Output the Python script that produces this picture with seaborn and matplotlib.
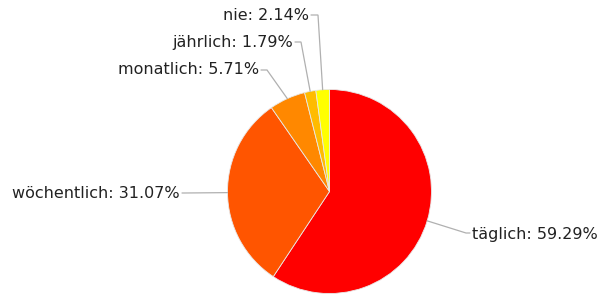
import numpy as np
import matplotlib.pyplot as plt
import seaborn as sns

# data
labels = ['täglich', 'wöchentlich', 'monatlich', 'jährlich', 'nie']
values = [59.29, 31.07, 5.71, 1.79, 2.14]
colors = ['#ff0000', '#ff5500', '#ff8800', '#ffbb00', '#ffff00']

sns.set_theme(style='white')
plt.rcParams['font.family'] = ['DejaVu Sans']

W, H = 603, 297
fig = plt.figure(figsize=(W / 100, H / 100), dpi=100)
ax = fig.add_axes([0, 0, 1, 1])

cx, cy, r = 329.5, H - 191.5, 102
wedges, _ = ax.pie(values, colors=colors, startangle=90, counterclock=False,
                   center=(cx, cy), radius=r,
                   wedgeprops=dict(linewidth=0.6, edgecolor='#e8e8e8'),
                   frame=True)
ax.set_xlim(0, W)
ax.set_ylim(0, H)
ax.set_aspect('equal')
ax.axis('off')

# label layout (pixel positions, y measured from top): text anchor, knee, alignment
layout = {
    'täglich':     ((472, 234), (466, 233), 'left'),
    'wöchentlich': ((180, 193), (184, 193), 'right'),
    'monatlich':   ((259, 70), (267, 70), 'right'),
    'jährlich':    ((293, 42), (301, 42), 'right'),
    'nie':         ((309, 15), (318, 15), 'right'),
}

for w, lab, val in zip(wedges, labels, values):
    mid = np.deg2rad((w.theta1 + w.theta2) / 2)
    ex, ey = cx + r * np.cos(mid), cy + r * np.sin(mid)
    (tx, ty), (kx, ky), ha = layout[lab]
    ty, ky = H - ty, H - ky
    start = tx + (2 if ha == 'right' else -2)
    ax.plot([ex, kx, start], [ey, ky, ky], color='#b0b0b0', lw=0.9,
            solid_joinstyle='miter')
    ax.text(tx, ty, f'{lab}: {val:.2f}%', ha=ha, va='center',
            fontsize=11.5, color='#222222')

fig.savefig('out.png', dpi=100)
